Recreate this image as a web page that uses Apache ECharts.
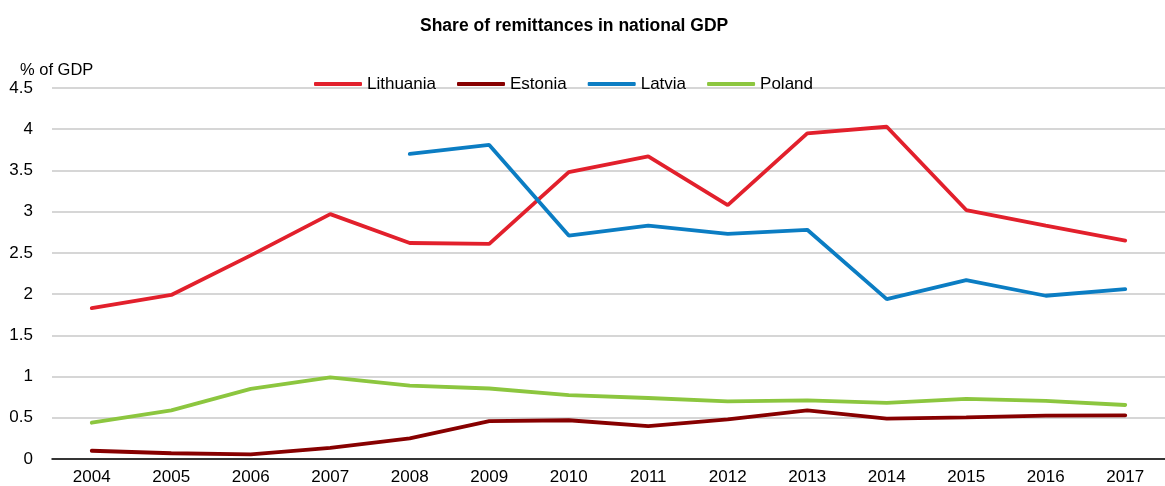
<!DOCTYPE html>
<html lang="en">

<head>
    <meta charset="UTF-8">
    <title>Share of remittances in national GDP</title>
    <style>
        html, body { margin: 0; padding: 0; background: #fff; }
        #main { width: 1165px; height: 486px; }
    </style>
    <script src="https://cdn.jsdelivr.net/npm/echarts@6/dist/echarts.min.js"></script>
</head>

<body>
    <div id="main"></div>

    <script>
        // data
        var years = ['2004', '2005', '2006', '2007', '2008', '2009', '2010',
            '2011', '2012', '2013', '2014', '2015', '2016', '2017'];
        var lithuania = [1.83, 1.99, 2.47, 2.97, 2.62, 2.61, 3.48, 3.67, 3.08, 3.95, 4.03, 3.02, 2.83, 2.65];
        var estonia = [0.10, 0.07, 0.055, 0.135, 0.25, 0.46, 0.47, 0.40, 0.48, 0.59, 0.49, 0.505, 0.525, 0.53];
        var latvia = [null, null, null, null, 3.70, 3.81, 2.71, 2.83, 2.73, 2.78, 1.94, 2.17, 1.98, 2.06];
        var poland = [0.44, 0.59, 0.85, 0.99, 0.89, 0.855, 0.775, 0.74, 0.70, 0.71, 0.68, 0.73, 0.705, 0.655];

        var font = '"Liberation Sans", Arial, sans-serif';

        function lineSeries(name, data, color) {
            return {
                name: name,
                type: 'line',
                data: data,
                symbol: 'none',
                color: color,
                lineStyle: { width: 3.8, color: color, cap: 'round' },
                animation: false
            };
        }

        var chart = echarts.init(document.getElementById('main'));

        var option = {
            backgroundColor: '#fff',
            textStyle: { fontFamily: font },
            title: [{
                text: 'Share of remittances in national GDP',
                left: 415,
                top: 12,
                textStyle: { fontSize: 17.5, fontWeight: 'bold', color: '#000', fontFamily: font }
            }, {
                text: '% of GDP',
                left: 15,
                top: 57,
                textStyle: { fontSize: 16.5, fontWeight: 'normal', color: '#000', fontFamily: font }
            }],
            legend: {
                left: 309,
                top: 70,
                icon: 'roundRect',
                itemWidth: 48,
                itemHeight: 4,
                itemGap: 21,
                textStyle: { fontSize: 17, color: '#000', lineHeight: 18, fontFamily: font },
                data: ['Lithuania', 'Estonia', 'Latvia', 'Poland']
            },
            grid: {
                left: 52,
                top: 88,
                width: 1124,
                bottom: 26.5
            },
            xAxis: {
                type: 'category',
                data: years,
                boundaryGap: true,
                axisLine: { lineStyle: { color: '#000', width: 1.5 } },
                axisTick: { inside: true, length: 5, lineStyle: { color: '#000', width: 1.5 } },
                axisLabel: { fontSize: 17, color: '#000', margin: 10, fontFamily: font },
                splitLine: { show: false }
            },
            yAxis: {
                type: 'value',
                min: 0,
                max: 4.5,
                interval: 0.5,
                axisLine: { show: false },
                axisTick: { show: false },
                axisLabel: { fontSize: 17, color: '#000', margin: 19, fontFamily: font },
                splitLine: { lineStyle: { color: '#c8c8c8', width: 1.5 } }
            },
            series: [
                lineSeries('Lithuania', lithuania, '#e2202c'),
                lineSeries('Estonia', estonia, '#870000'),
                lineSeries('Latvia', latvia, '#0b7dc3'),
                lineSeries('Poland', poland, '#8cc63f')
            ]
        };

        chart.setOption(option);
    </script>
</body>

</html>
